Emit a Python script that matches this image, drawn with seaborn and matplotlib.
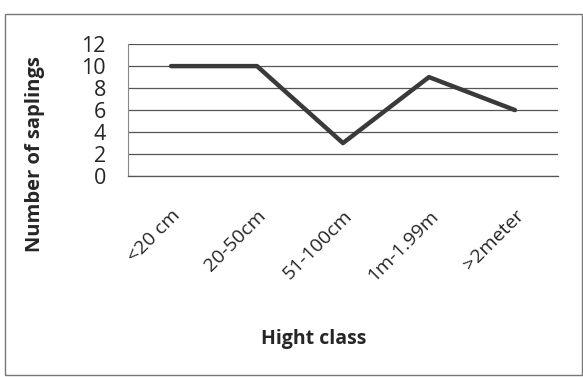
import pandas as pd
import matplotlib.pyplot as plt
import matplotlib.patches as patches
import seaborn as sns

# data
height_class = ['<20 cm', '20-50cm', '51-100cm', '1m-1.99m', '>2meter']
saplings = [10, 10, 3, 9, 6]
y_ticks = [0, 2, 4, 6, 8, 10, 12]

df = pd.DataFrame({'Hight class': height_class, 'Number of saplings': saplings})

sns.set_style('white')
plt.rcParams['font.family'] = ['Open Sans', 'DejaVu Sans']

fig = plt.figure(figsize=(5.83, 3.77), dpi=100)
ax = fig.add_axes([0.2196, 0.533, 0.7374, 0.350])

sns.lineplot(data=df, x='Hight class', y='Number of saplings', ax=ax,
             color='#3a3a3a', linewidth=3.2, sort=False)

ax.set_xlim(-0.5, len(height_class) - 0.5)
ax.set_ylim(0, 12)
ax.set_yticks(y_ticks)
ax.set_yticklabels([str(v) for v in y_ticks], fontsize=15.5)
ax.grid(axis='y', color='#555555', linewidth=0.9)
ax.set_axisbelow(True)

for side in ['top', 'right']:
    ax.spines[side].set_visible(False)
ax.spines['left'].set_color('#888888')
ax.spines['left'].set_linewidth(0.8)
ax.spines['bottom'].set_color('#555555')
ax.spines['bottom'].set_linewidth(0.9)

ax.tick_params(axis='y', length=0, pad=16)
ax.tick_params(axis='x', length=0, pad=22)
plt.setp(ax.get_xticklabels(), rotation=45, ha='right', rotation_mode='anchor',
         fontsize=14)

ax.set_xlabel('Hight class', fontsize=14, fontweight='bold')
ax.set_ylabel('Number of saplings', fontsize=14.5, fontweight='bold')
ax.xaxis.set_label_coords(0.431, -1.16)
ax.yaxis.set_label_coords(-0.193, 0.17)

# chart border
fig.patches.append(patches.Rectangle((5 / 583, 2 / 377), 577 / 583, 361 / 377,
                                     transform=fig.transFigure, fill=False,
                                     edgecolor='#777777', linewidth=1.0))

fig.savefig('out.png', dpi=100)
